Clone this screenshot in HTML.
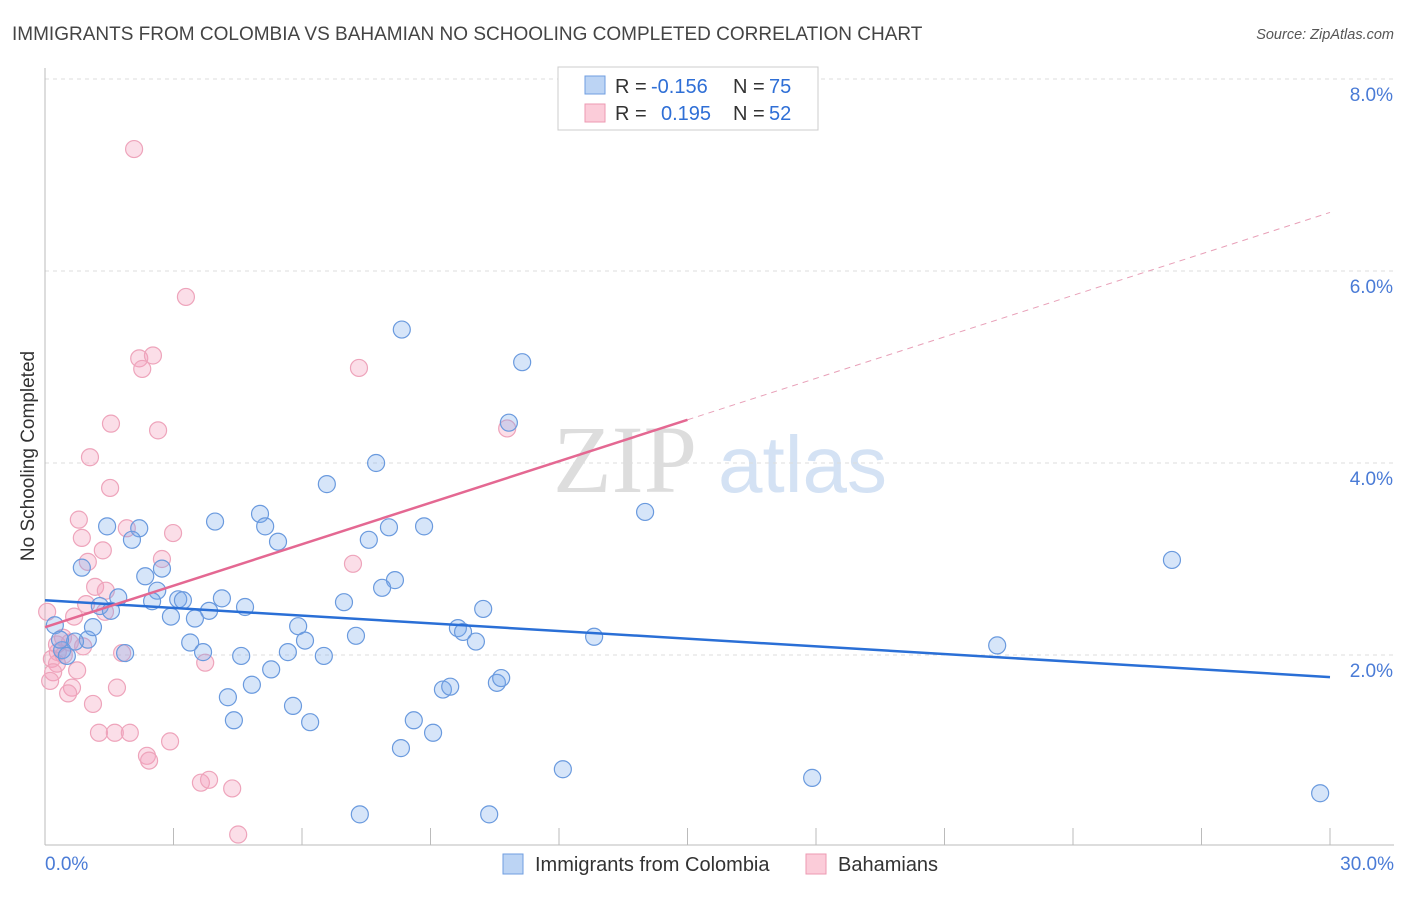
<!DOCTYPE html>
<html><head><meta charset="utf-8"><style>
body{margin:0;background:#fff;font-family:"Liberation Sans",sans-serif}
svg text{font-family:"Liberation Sans",sans-serif}
</style></head><body>
<svg width="1406" height="892" id="c">
<text x="12" y="40" font-size="19" fill="#444">IMMIGRANTS FROM COLOMBIA VS BAHAMIAN NO SCHOOLING COMPLETED CORRELATION CHART</text>
<text x="1394" y="39" font-size="14.5" fill="#555" font-style="italic" text-anchor="end">Source: ZipAtlas.com</text>
<g>
<text x="553" y="492" font-size="96" fill="#ddd" font-family="Liberation Serif" style="font-family:'Liberation Serif',serif">ZIP</text>
<text x="718" y="492" font-size="80" fill="#d4e2f4">atlas</text>
</g>
<g id="grid"></g><g id="axes"></g><g id="pts"></g><g id="lines"></g>
<text transform="translate(34,456) rotate(-90)" font-size="19" fill="#333" text-anchor="middle">No Schooling Completed</text>
<g>
<rect x="558" y="67" width="260" height="63" fill="#fff" stroke="#ccc"/>
<rect x="585" y="76" width="20" height="18" fill="#bcd4f4" stroke="#6f9ee0"/>
<rect x="585" y="104" width="20" height="18" fill="#fbccd9" stroke="#ec9ab2"/>
<text x="615" y="93" font-size="20" fill="#333">R =</text>
<text x="651" y="93" font-size="20" fill="#2f6fd6">-0.156</text>
<text x="733" y="93" font-size="20" fill="#333">N =</text>
<text x="769" y="93" font-size="20" fill="#2f6fd6">75</text>
<text x="615" y="120" font-size="20" fill="#333">R =</text>
<text x="661" y="120" font-size="20" fill="#2f6fd6">0.195</text>
<text x="733" y="120" font-size="20" fill="#333">N =</text>
<text x="769" y="120" font-size="20" fill="#2f6fd6">52</text>
</g>
<g>
<rect x="503" y="854" width="20" height="20" fill="#bcd4f4" stroke="#6f9ee0"/>
<text x="535" y="871" font-size="20" fill="#333">Immigrants from Colombia</text>
<rect x="806" y="854" width="20" height="20" fill="#fbccd9" stroke="#ec9ab2"/>
<text x="838" y="871" font-size="20" fill="#333">Bahamians</text>
</g>
</svg>
<script>
const yTicks=[2,4,6,8];
const yTickLabels=["2.0%","4.0%","6.0%","8.0%"];
const xEdgeLabels=["0.0%","30.0%"];
const blueX=[8.33,11.14,10.83,7.73,6.58,14.01,26.31,5.02,3.97,5.14,1.45,2.2,2.03,5.44,7.56,8.03,8.85,0.86,2.34,2.73,8.17,7.87,2.62,1.71,2.5,3.11,3.22,4.13,4.67,6.98,10.23,1.28,1.54,3.83,2.94,3.5,5.91,9.64,9.76,7.26,10.06,12.82,6.07,3.39,1.0,1.12,0.7,0.4,0.51,1.87,3.69,4.58,5.67,6.51,22.23,5.28,4.83,9.29,9.46,10.55,10.65,4.27,5.79,4.41,6.19,8.61,9.06,8.31,12.09,17.91,7.35,10.37,29.77,0.23,0.35];
const blueY=[5.39,5.05,4.42,4.0,3.78,3.49,2.99,3.47,3.39,3.34,3.34,3.32,3.2,3.18,3.2,3.33,3.34,2.91,2.82,2.9,2.78,2.7,2.67,2.6,2.56,2.58,2.57,2.59,2.5,2.55,2.48,2.51,2.46,2.46,2.4,2.38,2.3,2.28,2.24,2.2,2.14,2.19,2.15,2.13,2.16,2.29,2.14,2.05,1.99,2.02,2.03,1.99,2.03,1.99,2.1,1.85,1.69,1.64,1.67,1.71,1.76,1.56,1.47,1.32,1.3,1.32,1.19,1.03,0.81,0.72,0.34,0.34,0.56,2.31,2.16];
const pinkX=[2.08,3.29,2.2,2.52,2.27,7.33,1.54,2.64,10.79,1.05,1.52,0.79,0.86,1.91,2.99,1.35,1.0,2.73,7.19,1.17,1.42,0.96,0.68,1.4,0.05,0.42,0.58,0.89,0.30,0.16,1.8,3.74,0.28,0.75,0.19,0.12,1.68,0.63,0.54,1.12,1.26,1.63,1.98,2.92,2.38,2.43,3.64,3.83,4.37,4.51,0.28,0.44];
const pinkY=[7.27,5.73,5.09,5.12,4.98,4.99,4.41,4.34,4.36,4.06,3.74,3.41,3.22,3.32,3.27,3.09,2.97,3.0,2.95,2.71,2.67,2.53,2.4,2.45,2.45,2.18,2.13,2.09,2.03,1.96,2.02,1.92,1.91,1.84,1.82,1.73,1.66,1.66,1.6,1.49,1.19,1.19,1.19,1.1,0.95,0.9,0.67,0.7,0.61,0.13,2.11,2.0];
const blueTrend=[2.57,1.77];
const pinkTrend=[2.29,6.61];
const pinkSolidEnd=15;
const X0=45,X1=1330,Y0=847,PY=96;
const xs=v=>X0+v*(X1-X0)/30, ys=v=>Y0-v*PY;
const NS="http://www.w3.org/2000/svg";
function mk(t,a,p){const e=document.createElementNS(NS,t);for(const k in a)e.setAttribute(k,a[k]);document.getElementById(p).appendChild(e);return e;}
yTicks.forEach((t,i)=>{
 const l=mk('line',{x1:45,x2:1394,y1:ys(t),y2:ys(t),stroke:'#ddd','stroke-dasharray':'4,4'},'grid');
 
 
 const tx=mk('text',{x:1393,y:ys(t)+22,'font-size':19,fill:'#4a7bd6','text-anchor':'end'},'grid');
 tx.textContent=yTickLabels[i];
 
 
});
let a=mk('line',{x1:45,x2:45,y1:68,y2:845,stroke:'#bbb'},'axes');


a=mk('line',{x1:45,x2:1394,y1:845,y2:845,stroke:'#bbb'},'axes');


for(let i=1;i<=10;i++){const t=mk('line',{x1:xs(i*3),x2:xs(i*3),y1:828,y2:845,stroke:'#bbb'},'axes');
 
 }
[[0,'start',45],[30,'end',1394]].forEach((d,i)=>{const t=mk('text',{x:d[2],y:870,'font-size':19,fill:'#4a7bd6','text-anchor':d[1]},'axes');t.textContent=xEdgeLabels[i];
 
 });
pinkX.forEach((x,i)=>{const c=mk('circle',{cx:xs(x),cy:ys(pinkY[i]),r:8.5,fill:'rgba(244,160,188,0.35)',stroke:'#eea4bb','stroke-width':1.2},'pts');
 
 });
blueX.forEach((x,i)=>{const c=mk('circle',{cx:xs(x),cy:ys(blueY[i]),r:8.5,fill:'rgba(120,170,235,0.3)',stroke:'#6a9ade','stroke-width':1.2},'pts');
 
 });
let l=mk('line',{x1:xs(0),y1:ys(blueTrend[0]),x2:xs(30),y2:ys(blueTrend[1]),stroke:'#2a6fd6','stroke-width':2.5},'lines');


const pm=pinkTrend[0]+(pinkTrend[1]-pinkTrend[0])*pinkSolidEnd/30;
l=mk('line',{x1:xs(0),y1:ys(pinkTrend[0]),x2:xs(pinkSolidEnd),y2:ys(pm),stroke:'#e46892','stroke-width':2.5},'lines');


l=mk('line',{x1:xs(pinkSolidEnd),y1:ys(pm),x2:xs(30),y2:ys(pinkTrend[1]),stroke:'#e8a0b8','stroke-width':1,'stroke-dasharray':'6,5'},'lines');


</script>
</body></html>
